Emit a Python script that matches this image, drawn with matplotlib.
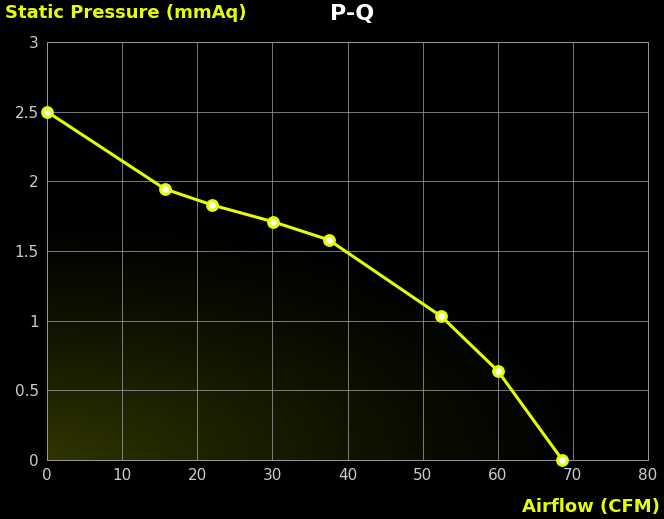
import numpy as np
import matplotlib
matplotlib.use("Agg")
import matplotlib.pyplot as plt

airflow = [0, 15.7, 22, 30.1, 37.5, 52.5, 60, 68.6]
pressure = [2.5, 1.945, 1.83, 1.71, 1.58, 1.03, 0.64, 0.0]
xticks = [0, 10, 20, 30, 40, 50, 60, 70, 80]
yticks = [0, 0.5, 1, 1.5, 2, 2.5, 3]
yticklabels = ["0", "0.5", "1", "1.5", "2", "2.5", "3"]

yellow = "#e5ff00"
fig = plt.figure(figsize=(6.64, 5.19), dpi=100, facecolor="black")
ax = fig.add_axes([47/664, 59/519, 601/664, 418/519])
ax.set_facecolor("black")

# faint olive glow, bottom-left
gx, gy = np.meshgrid(np.linspace(0, 1, 200), np.linspace(0, 1, 200))
glow = np.clip(1 - np.sqrt((gx / 0.95) ** 2 + (gy / 0.6) ** 2), 0, 1) ** 1.3
rgba = np.zeros((200, 200, 4))
rgba[..., 0] = 0.45
rgba[..., 1] = 0.5
rgba[..., 3] = glow * 0.42
ax.imshow(rgba, extent=[0, 80, 0, 3], origin="lower", aspect="auto", zorder=0)

ax.set_xlim(0, 80)
ax.set_ylim(0, 3)
ax.set_xticks(xticks)
ax.set_yticks(yticks)
ax.set_yticklabels(yticklabels)
ax.grid(True, color="#999999", lw=0.7, alpha=0.8)
for s in ax.spines.values():
    s.set_color("#999999")
    s.set_linewidth(0.7)
ax.tick_params(colors="#cccccc", labelsize=11, length=0, pad=6)

ax.plot(airflow, pressure, color=yellow, lw=2.2, marker="o", ms=7,
        mfc="white", mec=yellow, mew=2.2, zorder=3, clip_on=False)

fig.text(5/664, 1 - 13/519, "Static Pressure (mmAq)", color=yellow,
         fontsize=13, fontweight="bold", va="center", ha="left")
fig.text(352/664, 1 - 14/519, "P-Q", color="white", fontsize=16,
         fontweight="bold", va="center", ha="center")
fig.text(660/664, 1 - 507/519, "Airflow (CFM)", color=yellow,
         fontsize=13, fontweight="bold", va="center", ha="right")

fig.savefig("out.png", dpi=100, facecolor="black")
